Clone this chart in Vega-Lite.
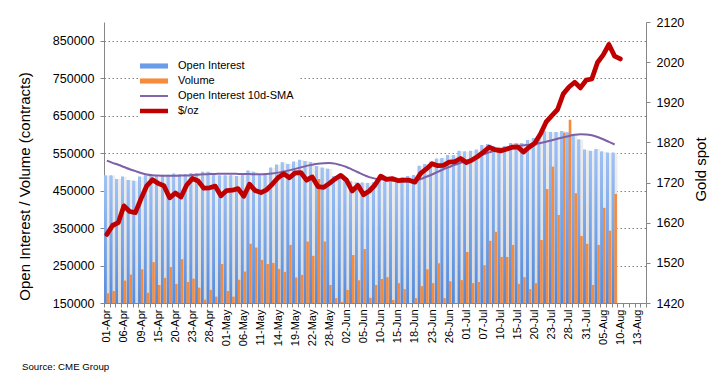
{
  "$schema": "https://vega.github.io/schema/vega-lite/v6.json",
  "width": 542,
  "height": 281,
  "autosize": {"type": "none"},
  "padding": {"left": 104, "top": 22, "right": 73, "bottom": 81},
  "background": "white",
  "config": {
    "font": "Liberation Sans",
    "view": {"stroke": null},
    "axis": {"labelFont": "Liberation Sans", "titleFont": "Liberation Sans", "labelColor": "#000", "titleColor": "#000", "titleFontWeight": "normal", "domainColor": "#868686", "tickColor": "#868686"}
  },
  "title": {"text": "Source: CME Group", "orient": "bottom", "anchor": "start", "frame": "group", "dx": -82, "offset": 16, "fontSize": 9.7, "fontWeight": "normal", "color": "#000", "font": "Liberation Sans"},
  "data": {"values": [
    {"d":"01-Apr","oi":490000,"vol":176000,"sma":530000,"price":1591},
    {"d":"02-Apr","oi":490000,"vol":182000,"sma":524000,"price":1613},
    {"d":"03-Apr","oi":481000,"vol":149000,"sma":519000,"price":1620},
    {"d":"06-Apr","oi":487000,"vol":210000,"sma":513000,"price":1662},
    {"d":"07-Apr","oi":478000,"vol":226000,"sma":507000,"price":1648},
    {"d":"08-Apr","oi":476000,"vol":149000,"sma":502000,"price":1645},
    {"d":"09-Apr","oi":487000,"vol":240000,"sma":497000,"price":1680},
    {"d":"13-Apr","oi":490000,"vol":177000,"sma":493000,"price":1712},
    {"d":"14-Apr","oi":489000,"vol":259000,"sma":491000,"price":1727},
    {"d":"15-Apr","oi":490000,"vol":198000,"sma":490000,"price":1718},
    {"d":"16-Apr","oi":492000,"vol":217000,"sma":489500,"price":1712},
    {"d":"17-Apr","oi":492000,"vol":246000,"sma":489500,"price":1682},
    {"d":"20-Apr","oi":495000,"vol":201000,"sma":489500,"price":1694},
    {"d":"21-Apr","oi":493000,"vol":267000,"sma":490000,"price":1684},
    {"d":"22-Apr","oi":494000,"vol":206000,"sma":490500,"price":1714},
    {"d":"23-Apr","oi":496000,"vol":215000,"sma":491500,"price":1730},
    {"d":"24-Apr","oi":496000,"vol":191000,"sma":492500,"price":1724},
    {"d":"27-Apr","oi":500000,"vol":159000,"sma":493500,"price":1706},
    {"d":"28-Apr","oi":500000,"vol":185000,"sma":494000,"price":1707},
    {"d":"29-Apr","oi":493000,"vol":167000,"sma":494500,"price":1711},
    {"d":"30-Apr","oi":490000,"vol":254000,"sma":495000,"price":1687},
    {"d":"01-May","oi":490000,"vol":182000,"sma":495000,"price":1700},
    {"d":"04-May","oi":490000,"vol":167000,"sma":495000,"price":1701},
    {"d":"05-May","oi":489000,"vol":212000,"sma":494500,"price":1705},
    {"d":"06-May","oi":494000,"vol":234000,"sma":494000,"price":1686},
    {"d":"07-May","oi":503000,"vol":308000,"sma":494000,"price":1716},
    {"d":"08-May","oi":500000,"vol":298000,"sma":493500,"price":1700},
    {"d":"11-May","oi":493000,"vol":265000,"sma":493500,"price":1695},
    {"d":"12-May","oi":496000,"vol":254000,"sma":494000,"price":1702},
    {"d":"13-May","oi":511000,"vol":257000,"sma":495500,"price":1716},
    {"d":"14-May","oi":519000,"vol":241000,"sma":498000,"price":1732},
    {"d":"15-May","oi":525000,"vol":233000,"sma":501000,"price":1742},
    {"d":"18-May","oi":521000,"vol":305000,"sma":504000,"price":1732},
    {"d":"19-May","oi":527000,"vol":218000,"sma":508000,"price":1744},
    {"d":"20-May","oi":532000,"vol":225000,"sma":512000,"price":1745},
    {"d":"21-May","oi":529000,"vol":314000,"sma":516000,"price":1726},
    {"d":"22-May","oi":526000,"vol":276000,"sma":519000,"price":1734},
    {"d":"26-May","oi":515000,"vol":481000,"sma":521500,"price":1710},
    {"d":"27-May","oi":511000,"vol":314000,"sma":523000,"price":1708},
    {"d":"28-May","oi":508000,"vol":198000,"sma":523500,"price":1718},
    {"d":"29-May","oi":488000,"vol":163000,"sma":522000,"price":1729},
    {"d":"01-Jun","oi":490000,"vol":153000,"sma":518000,"price":1738},
    {"d":"02-Jun","oi":480000,"vol":185000,"sma":513000,"price":1726},
    {"d":"03-Jun","oi":474000,"vol":278000,"sma":506000,"price":1699},
    {"d":"04-Jun","oi":471000,"vol":211000,"sma":499000,"price":1713},
    {"d":"05-Jun","oi":471000,"vol":294000,"sma":492000,"price":1690},
    {"d":"08-Jun","oi":470000,"vol":164000,"sma":486000,"price":1699},
    {"d":"09-Jun","oi":472000,"vol":198000,"sma":482000,"price":1714},
    {"d":"10-Jun","oi":476000,"vol":214000,"sma":480000,"price":1736},
    {"d":"11-Jun","oi":474000,"vol":219000,"sma":478000,"price":1728},
    {"d":"12-Jun","oi":472000,"vol":158000,"sma":476500,"price":1730},
    {"d":"15-Jun","oi":476000,"vol":203000,"sma":475000,"price":1725},
    {"d":"16-Jun","oi":485000,"vol":187000,"sma":474000,"price":1726},
    {"d":"17-Jun","oi":489000,"vol":149000,"sma":474000,"price":1726},
    {"d":"18-Jun","oi":491000,"vol":163000,"sma":476000,"price":1721},
    {"d":"19-Jun","oi":516000,"vol":195000,"sma":481000,"price":1743},
    {"d":"22-Jun","oi":521000,"vol":240000,"sma":487000,"price":1754},
    {"d":"23-Jun","oi":527000,"vol":203000,"sma":493000,"price":1767},
    {"d":"24-Jun","oi":535000,"vol":256000,"sma":500000,"price":1762},
    {"d":"25-Jun","oi":537000,"vol":163000,"sma":507000,"price":1763},
    {"d":"26-Jun","oi":545000,"vol":208000,"sma":513000,"price":1771},
    {"d":"29-Jun","oi":544000,"vol":149000,"sma":519000,"price":1772},
    {"d":"30-Jun","oi":556000,"vol":211000,"sma":524000,"price":1780},
    {"d":"01-Jul","oi":554000,"vol":286000,"sma":529000,"price":1770},
    {"d":"02-Jul","oi":556000,"vol":203000,"sma":535000,"price":1776},
    {"d":"06-Jul","oi":559000,"vol":206000,"sma":541000,"price":1785},
    {"d":"07-Jul","oi":571000,"vol":251000,"sma":547000,"price":1796},
    {"d":"08-Jul","oi":574000,"vol":316000,"sma":552000,"price":1808},
    {"d":"09-Jul","oi":568000,"vol":340000,"sma":557000,"price":1802},
    {"d":"10-Jul","oi":566000,"vol":273000,"sma":561000,"price":1799},
    {"d":"13-Jul","oi":569000,"vol":273000,"sma":564000,"price":1803},
    {"d":"14-Jul","oi":577000,"vol":305000,"sma":567000,"price":1808},
    {"d":"15-Jul","oi":577000,"vol":201000,"sma":569000,"price":1809},
    {"d":"16-Jul","oi":577000,"vol":219000,"sma":571000,"price":1796},
    {"d":"17-Jul","oi":585000,"vol":187000,"sma":572500,"price":1808},
    {"d":"20-Jul","oi":590000,"vol":203000,"sma":574500,"price":1818},
    {"d":"21-Jul","oi":597000,"vol":318000,"sma":577000,"price":1841},
    {"d":"22-Jul","oi":608000,"vol":454000,"sma":580500,"price":1871},
    {"d":"23-Jul","oi":606000,"vol":514000,"sma":584500,"price":1887},
    {"d":"24-Jul","oi":606000,"vol":385000,"sma":588500,"price":1902},
    {"d":"27-Jul","oi":609000,"vol":605000,"sma":592500,"price":1941},
    {"d":"28-Jul","oi":605000,"vol":639000,"sma":596000,"price":1958},
    {"d":"29-Jul","oi":600000,"vol":443000,"sma":599000,"price":1970},
    {"d":"30-Jul","oi":586000,"vol":329000,"sma":600500,"price":1956},
    {"d":"31-Jul","oi":559000,"vol":308000,"sma":600000,"price":1975},
    {"d":"03-Aug","oi":556000,"vol":198000,"sma":597500,"price":1978},
    {"d":"04-Aug","oi":561000,"vol":305000,"sma":593000,"price":2019},
    {"d":"05-Aug","oi":554000,"vol":404000,"sma":587000,"price":2038},
    {"d":"06-Aug","oi":551000,"vol":343000,"sma":580000,"price":2064},
    {"d":"07-Aug","oi":551000,"vol":441000,"sma":573000,"price":2035},
    {"d":"10-Aug","price":2028}
  ]},
  "encoding": {
    "x": {
      "field": "d", "type": "nominal", "sort": null,
      "scale": {"domain": ["01-Apr","02-Apr","03-Apr","06-Apr","07-Apr","08-Apr","09-Apr","13-Apr","14-Apr","15-Apr","16-Apr","17-Apr","20-Apr","21-Apr","22-Apr","23-Apr","24-Apr","27-Apr","28-Apr","29-Apr","30-Apr","01-May","04-May","05-May","06-May","07-May","08-May","11-May","12-May","13-May","14-May","15-May","18-May","19-May","20-May","21-May","22-May","26-May","27-May","28-May","29-May","01-Jun","02-Jun","03-Jun","04-Jun","05-Jun","08-Jun","09-Jun","10-Jun","11-Jun","12-Jun","15-Jun","16-Jun","17-Jun","18-Jun","19-Jun","22-Jun","23-Jun","24-Jun","25-Jun","26-Jun","29-Jun","30-Jun","01-Jul","02-Jul","06-Jul","07-Jul","08-Jul","09-Jul","10-Jul","13-Jul","14-Jul","15-Jul","16-Jul","17-Jul","20-Jul","21-Jul","22-Jul","23-Jul","24-Jul","27-Jul","28-Jul","29-Jul","30-Jul","31-Jul","03-Aug","04-Aug","05-Aug","06-Aug","07-Aug","10-Aug","11-Aug","12-Aug","13-Aug","14-Aug"], "paddingInner": 0, "paddingOuter": 0},
      "axis": {
        "title": null, "labelAngle": 270, "labelFontSize": 11, "labelPadding": 2, "tickSize": 4, "tickBand": "extent", "labelOverlap": false, "grid": false,
        "labelExpr": "indexof(['01-Apr','06-Apr','09-Apr','15-Apr','20-Apr','23-Apr','28-Apr','01-May','06-May','11-May','14-May','19-May','22-May','28-May','02-Jun','05-Jun','10-Jun','15-Jun','18-Jun','23-Jun','26-Jun','01-Jul','07-Jul','10-Jul','15-Jul','20-Jul','23-Jul','28-Jul','31-Jul','05-Aug','10-Aug','13-Aug'], datum.value) >= 0 ? datum.value : ''"
      }
    }
  },
  "layer": [
    {
      "layer": [
        {
          "mark": {"type": "bar", "clip": true, "color": {"gradient": "linear", "x1": 0, "y1": 0, "x2": 0, "y2": 1, "stops": [{"offset": 0, "color": "#eeeeee"}, {"offset": 1, "color": "#d0d0d0"}]}},
          "encoding": {
            "y": {"field": "oi", "type": "quantitative", "scale": {"domain": [150000, 900000], "zero": false, "nice": false},
              "axis": {"title": "Open Interest / Volume (contracts)", "values": [150000,250000,350000,450000,550000,650000,750000,850000], "format": "d", "grid": true, "gridDash": [1.5, 2.5], "gridColor": "#808080", "tickSize": 4, "labelPadding": 6, "labelFontSize": 12.5, "titleFontSize": 15, "titlePadding": 20, "titleY": 164}}
          }
        },
        {
          "mark": {"type": "bar", "clip": true},
          "encoding": {
            "y": {"field": "oi", "type": "quantitative", "title": "Open Interest / Volume (contracts)"},
            "xOffset": {"datum": "Open Interest", "type": "nominal", "scale": {"domain": ["Open Interest", "Volume"], "paddingInner": 0, "paddingOuter": 0.1, "align": 0}},
            "color": {"datum": "Open Interest", "type": "nominal",
              "scale": {"domain": ["Open Interest", "Volume", "Open Interest 10d-SMA", "$/oz"], "range": ["#6a9ce8", "#f68b3c", "#7d60a6", "#c00000"]},
              "legend": {
                "orient": "none", "legendX": 36, "legendY": 30, "title": null, "fillColor": "white", "padding": 6,
                "labelFont": "Liberation Sans", "labelFontSize": 11, "labelColor": "#000", "labelOffset": 16,
                "symbolSize": 256, "rowPadding": 2, "symbolStrokeWidth": 0, "symbolOpacity": 1,
                "symbolType": {"expr": "datum.value === 'Open Interest' || datum.value === 'Volume' ? 'M-1.75,-0.32H1.75V0.32H-1.75Z' : datum.value === '$/oz' ? 'M-1.75,-0.28H1.75V0.28H-1.75Z' : 'M-1.75,-0.12H1.75V0.12H-1.75Z'"}
              }
            }
          }
        },
        {
          "mark": {"type": "bar", "clip": true, "color": {"gradient": "linear", "x1": 0, "y1": 0, "x2": 0, "y2": 1, "stops": [{"offset": 0, "color": "#a0c3f6"}, {"offset": 1, "color": "#3272d2"}]}},
          "encoding": {
            "y": {"field": "oi", "type": "quantitative", "title": "Open Interest / Volume (contracts)"},
            "xOffset": {"datum": "Open Interest", "type": "nominal"}
          }
        },
        {
          "mark": {"type": "bar", "clip": true},
          "encoding": {
            "y": {"field": "vol", "type": "quantitative", "title": "Open Interest / Volume (contracts)"},
            "xOffset": {"datum": "Volume", "type": "nominal"},
            "color": {"datum": "Volume", "type": "nominal"}
          }
        },
        {
          "mark": {"type": "line", "clip": true, "interpolate": "monotone", "strokeWidth": 2},
          "encoding": {
            "y": {"field": "sma", "type": "quantitative", "title": "Open Interest / Volume (contracts)"},
            "color": {"datum": "Open Interest 10d-SMA", "type": "nominal"}
          }
        }
      ]
    },
    {
      "mark": {"type": "line", "clip": true, "strokeWidth": 4.8, "strokeJoin": "round", "strokeCap": "round"},
      "encoding": {
        "y": {"field": "price", "type": "quantitative", "scale": {"domain": [1420, 2120], "zero": false, "nice": false},
          "axis": {"orient": "right", "title": "Gold spot", "values": [1420,1520,1620,1720,1820,1920,2020,2120], "format": "d", "grid": false, "tickSize": 4, "labelPadding": 6, "labelFontSize": 12.5, "titleFontSize": 15, "titleAngle": 270, "titleBaseline": "top", "titlePadding": 10, "titleY": 147}},
        "color": {"datum": "$/oz", "type": "nominal"}
      }
    }
  ],
  "resolve": {"scale": {"y": "independent"}}
}
